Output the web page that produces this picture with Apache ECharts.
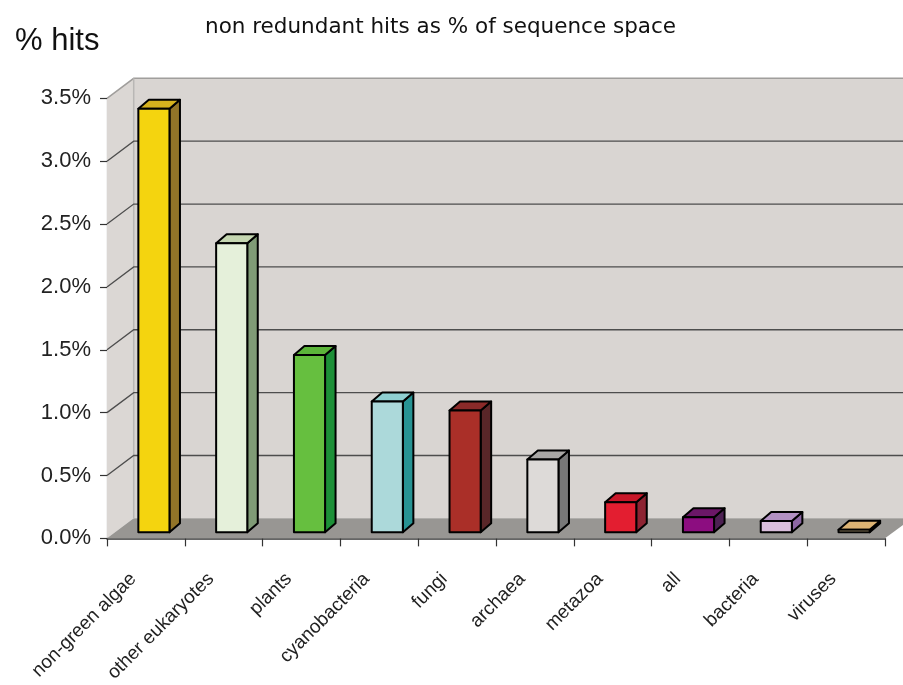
<!DOCTYPE html>
<html>
<head>
<meta charset="utf-8">
<style>
  html, body { margin: 0; padding: 0; background: #ffffff; }
  #chart { width: 903px; height: 685px; }
</style>
<script src="https://cdn.jsdelivr.net/npm/echarts@6/dist/echarts.min.js"></script>
</head>
<body>
<div id="chart"></div>
<script>
// Share of sequence space covered by non redundant hits, per group (%)
var categories = ['non-green algae', 'other eukaryotes', 'plants', 'cyanobacteria', 'fungi',
                  'archaea', 'metazoa', 'all', 'bacteria', 'viruses'];
var hitPercent = [3.37, 2.30, 1.41, 1.04, 0.97, 0.58, 0.24, 0.12, 0.09, 0.02];
var yTicks = [0, 0.5, 1.0, 1.5, 2.0, 2.5, 3.0, 3.5];

// Shading for each block: front face, top face, right side face
var faceColors = ['#f4d40f', '#e5f0da', '#66bf3f', '#acd9da', '#aa2f28',
                  '#dddad8', '#e31e30', '#8c0d80', '#d9bedb', '#f6dba3'];
var topColors  = ['#d6b21e', '#c5d6b1', '#5cb53a', '#8fcfd1', '#8a2a29',
                  '#a9a7a5', '#c81729', '#6b1767', '#b391c3', '#dcb374'];
var sideColors = ['#927428', '#809b76', '#1d9038', '#279393', '#592628',
                  '#787878', '#8d2332', '#4d2153', '#8d67a3', '#b38b4f'];

// Oblique projection offsets (px)
var WALL_DEPTH = [26.7, -20];   // front plane -> back wall
var BAR_SHIFT = [8, -6];        // front plane -> block front face
var BAR_DEPTH = [10.5, -9];     // block front face -> block back face
var BAR_FRACTION = 0.4;         // block width as share of a category band

var FONT = '"Liberation Sans", Arial, sans-serif';
var TITLE_FONT = '"DejaVu Sans", "Liberation Sans", sans-serif';

function renderRoom(params, api) {
  var cs = params.coordSys;
  var L = cs.x, R = cs.x + cs.width, T = cs.y, B = cs.y + cs.height;
  var dx = WALL_DEPTH[0], dy = WALL_DEPTH[1];
  var children = [];
  // back wall
  children.push({ type: 'rect', shape: { x: L + dx, y: T + dy, width: R - L, height: B - T },
    style: { fill: '#d9d5d2', stroke: null } });
  // left side wall
  children.push({ type: 'polygon', shape: { points: [[L, B], [L, T], [L + dx, T + dy], [L + dx, B + dy]] },
    style: { fill: '#dbd7d4', stroke: null } });
  // floor
  children.push({ type: 'polygon', shape: { points: [[L, B], [R, B], [R + dx, B + dy], [L + dx, B + dy]] },
    style: { fill: '#989693', stroke: null } });
  // edges of the walls
  children.push({ type: 'polyline', shape: { points: [[L, T], [L + dx, T + dy], [R + dx, T + dy]] },
    style: { stroke: '#a09e9c', lineWidth: 1.5, fill: null } });
  children.push({ type: 'line', shape: { x1: L + dx, y1: T + dy, x2: L + dx, y2: B + dy },
    style: { stroke: '#b9b7b5', lineWidth: 1.5 } });
  // gridlines across side wall and back wall
  for (var i = 1; i < yTicks.length - 1; i++) {
    var y = api.coord([0, yTicks[i]])[1];
    children.push({ type: 'polyline', shape: { points: [[L, y], [L + dx, y + dy], [R + dx, y + dy]] },
      style: { stroke: '#4d4d4d', lineWidth: 1.3, fill: null } });
  }
  return { type: 'group', children: children };
}

function renderBlock(params, api) {
  var idx = api.value(0);
  var base = api.coord([idx, 0]);
  var peak = api.coord([idx, api.value(1)]);
  var band = api.size([1, 0])[0];
  var w = band * BAR_FRACTION;
  var xl = base[0] - w / 2 + BAR_SHIFT[0];
  var xr = xl + w;
  var yb = base[1] + BAR_SHIFT[1];
  var yt = peak[1] + BAR_SHIFT[1];
  var ddx = BAR_DEPTH[0], ddy = BAR_DEPTH[1];
  var line = { stroke: '#000000', lineWidth: 2, lineJoin: 'round' };
  return {
    type: 'group',
    children: [
      { type: 'polygon', shape: { points: [[xr, yt], [xr, yb], [xr + ddx, yb + ddy], [xr + ddx, yt + ddy]] },
        style: Object.assign({ fill: sideColors[idx] }, line) },
      { type: 'polygon', shape: { points: [[xl, yt], [xr, yt], [xr + ddx, yt + ddy], [xl + ddx, yt + ddy]] },
        style: Object.assign({ fill: topColors[idx] }, line) },
      { type: 'rect', shape: { x: xl, y: yt, width: w, height: yb - yt },
        style: Object.assign({ fill: faceColors[idx] }, line) }
    ]
  };
}

var chart = echarts.init(document.getElementById('chart'), null, { renderer: 'canvas' });
chart.setOption({
  backgroundColor: '#ffffff',
  animation: false,
  title: [
    { text: 'non redundant hits as % of sequence space', left: 200, top: 11,
      textStyle: { fontFamily: TITLE_FONT, fontSize: 21.5, fontWeight: 'normal', color: '#111111' } },
    { text: '% hits', left: 10, top: 21,
      textStyle: { fontFamily: FONT, fontSize: 31, fontWeight: 'normal', color: '#111111' } }
  ],
  grid: { left: 107, right: 18, top: 98.3, bottom: 144, containLabel: false },
  xAxis: {
    type: 'category',
    data: categories,
    boundaryGap: true,
    axisLine: { show: true, lineStyle: { color: '#333333', width: 1.5 } },
    axisTick: { show: true, length: 8, alignWithLabel: false, lineStyle: { color: '#333333', width: 1.2 } },
    axisLabel: { rotate: 45, fontFamily: FONT, fontSize: 19, color: '#222222', margin: 25,
                 padding: [0, 18, 0, 0], interval: 0 },
    splitLine: { show: false }
  },
  yAxis: {
    type: 'value',
    min: 0, max: 3.5, interval: 0.5,
    axisLine: { show: true, lineStyle: { color: '#808080', width: 1.2 } },
    axisTick: { show: true, length: 7, lineStyle: { color: '#333333', width: 1.2 } },
    axisLabel: { fontFamily: FONT, fontSize: 22, color: '#222222', margin: 16,
                 padding: [5, 0, 0, 0],
                 formatter: function (v) { return v.toFixed(1) + '%'; } },
    splitLine: { show: false }
  },
  series: [
    { type: 'custom', name: 'room', renderItem: renderRoom, data: [[0, 0]], z: 1, silent: true, clip: false },
    { type: 'custom', name: 'hits', renderItem: renderBlock, z: 3, clip: false,
      data: hitPercent.map(function (v, i) { return [i, v]; }) }
  ]
});
</script>
</body>
</html>
